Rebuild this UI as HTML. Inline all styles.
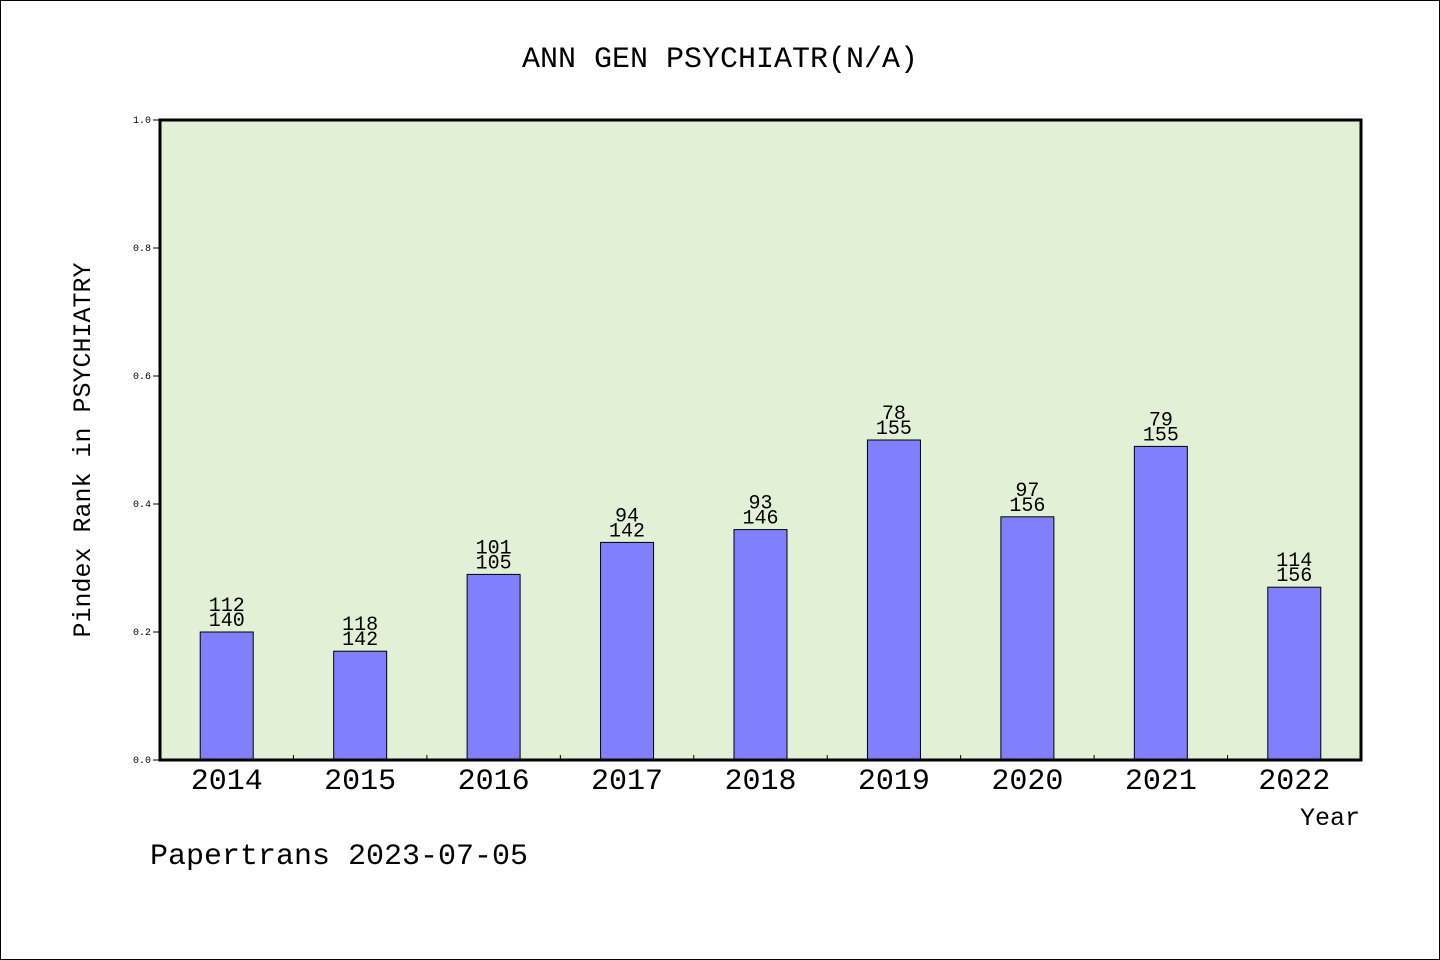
<!DOCTYPE html>
<html><head><meta charset="utf-8"><style>
html,body{margin:0;padding:0;background:#fff}
svg{display:block}
text{font-family:"WenQuanYi Zen Hei","Liberation Mono",monospace;fill:#000}
</style></head><body>
<svg width="1440" height="960">
<rect x="0.5" y="0.5" width="1439" height="959" fill="#fff" stroke="#000"/>
<text x="720" y="67" font-size="30" text-anchor="middle">ANN GEN PSYCHIATR(N/A)</text>
<rect x="160" y="120" width="1201" height="640" fill="#e2f0d6"/>
<g id="bars"></g>
<rect x="160" y="120" width="1201" height="640" fill="none" stroke="#000" stroke-width="3"/>
<g id="axes"></g>
<text x="90" y="450" font-size="25" text-anchor="middle" transform="rotate(-90 90 450)">Pindex Rank in PSYCHIATRY</text>
<text x="1360" y="825" font-size="25" text-anchor="end">Year</text>
<text x="150" y="864" font-size="30">Papertrans 2023-07-05</text>
</svg>
<script>
const categories=["2014","2015","2016","2017","2018","2019","2020","2021","2022"];
const values=[0.2,0.17,0.29,0.34,0.36,0.5,0.38,0.49,0.27];
const rankTop=["112","118","101","94","93","78","97","79","114"];
const rankBottom=["140","142","105","142","146","155","156","155","156"];
const yTicks=[0,0.2,0.4,0.6,0.8,1.0];
const NS="http://www.w3.org/2000/svg";
const X0=160,W=1201,Y0=760,H=640;
const band=W/categories.length;
const xc=i=>X0+band*(i+0.5);
const y=v=>Y0-v*H;
function mk(t,a,p){const e=document.createElementNS(NS,t);for(const k in a)e.setAttribute(k,a[k]);p.appendChild(e);return e;}
const bars=document.getElementById('bars'),axes=document.getElementById('axes');
categories.forEach((c,i)=>{
 const bw=53;
 const r=mk('rect',{x:xc(i)-bw/2,y:y(values[i]),width:bw,height:Y0-y(values[i]),fill:'#8080ff',stroke:'#000','stroke-width':1},bars);
 
 
 const t1=mk('text',{x:xc(i),y:y(values[i])-21,'font-size':20,'text-anchor':'middle'},bars);t1.textContent=rankTop[i];
 
 
 const t2=mk('text',{x:xc(i),y:y(values[i])-6,'font-size':20,'text-anchor':'middle'},bars);t2.textContent=rankBottom[i];
 
 
 const xl=mk('text',{x:xc(i),y:789,'font-size':30,'text-anchor':'middle'},axes);xl.textContent=c;
 
 
 if(i>0){const tk=mk('line',{x1:X0+band*i,x2:X0+band*i,y1:Y0,y2:Y0-5,stroke:'#000'},axes);
 
 }
});
yTicks.forEach(v=>{
 const l=mk('line',{x1:153,x2:160,y1:y(v),y2:y(v),stroke:'#000'},axes);
 
 
 const t=mk('text',{x:151,y:y(v)+3,'font-size':10,'text-anchor':'end'},axes);t.textContent=v.toFixed(1);
 
 
});
</script>
</body></html>
